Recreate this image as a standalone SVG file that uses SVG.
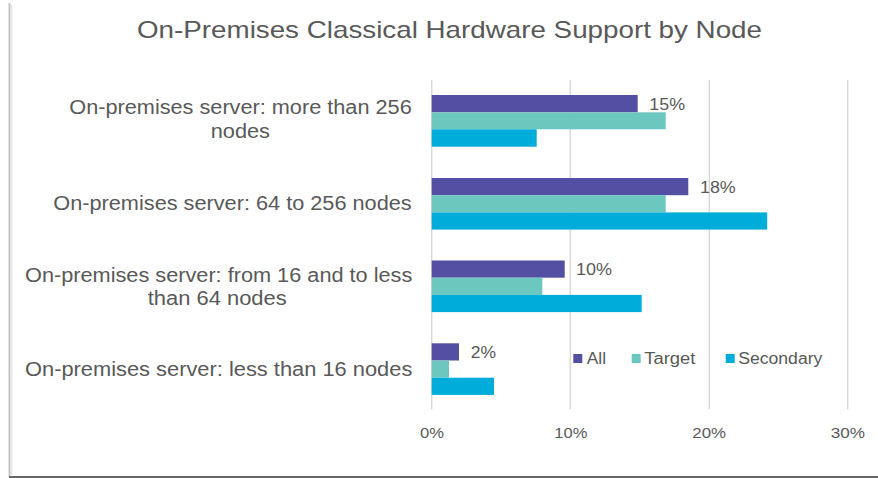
<svg xmlns="http://www.w3.org/2000/svg" width="878" height="478" viewBox="0 0 878 478">
<style>
text{font-family:"Liberation Sans",Arial,sans-serif;fill:#595959}
.t{font-size:24px}
.c{font-size:20px}
.v{font-size:16px}
.a{font-size:15px}
.l{font-size:16px}
.grid{stroke:#D9D9D9;stroke-width:1.5}
.all{fill:#534FA2}
.tgt{fill:#6CC8BF}
.sec{fill:#00ADDA}
</style>
<rect x="0" y="0" width="878" height="478" fill="#FFFFFF"/>
<g id="frame">
<line x1="9.5" y1="3" x2="9.5" y2="477" stroke="#C4C4C4" stroke-width="2"/>
<line x1="11.5" y1="5" x2="11.5" y2="475" stroke="#E6E6E6" stroke-width="1.5"/>
<line x1="9" y1="477" x2="878" y2="477" stroke="#666666" stroke-width="2"/>
</g>
<g id="title">
<text class="t" x="137" y="38.3" textLength="625" lengthAdjust="spacingAndGlyphs">On-Premises Classical Hardware Support by Node</text>
</g>
<g id="gridlines">
<line class="grid" x1="431.7" y1="80" x2="431.7" y2="409.3"/>
<line class="grid" x1="570.3" y1="80" x2="570.3" y2="409.3"/>
<line class="grid" x1="709.3" y1="80" x2="709.3" y2="409.3"/>
<line class="grid" x1="847.7" y1="80" x2="847.7" y2="409.3"/>
</g>
<g id="axis-labels">
<text class="a" x="420" y="438.3" textLength="24" lengthAdjust="spacingAndGlyphs">0%</text>
<text class="a" x="554.3" y="438.3" textLength="33" lengthAdjust="spacingAndGlyphs">10%</text>
<text class="a" x="692.3" y="438.3" textLength="33.7" lengthAdjust="spacingAndGlyphs">20%</text>
<text class="a" x="830.7" y="438.3" textLength="34.3" lengthAdjust="spacingAndGlyphs">30%</text>
</g>
<g id="cat-more-than-256">
<text class="c" x="69.3" y="113.8" textLength="342.4" lengthAdjust="spacingAndGlyphs">On-premises server: more than 256</text>
<text class="c" x="210.7" y="137.8" textLength="59.3" lengthAdjust="spacingAndGlyphs">nodes</text>
<rect class="all" x="431.7" y="95" width="206" height="17.3"/>
<rect class="tgt" x="431.7" y="112.3" width="234" height="17"/>
<rect class="sec" x="431.7" y="129.3" width="105" height="17.4"/>
<text class="v" x="649.3" y="110" textLength="35.7" lengthAdjust="spacingAndGlyphs">15%</text>
</g>
<g id="cat-64-to-256">
<text class="c" x="53.3" y="209.5" textLength="358.4" lengthAdjust="spacingAndGlyphs">On-premises server: 64 to 256 nodes</text>
<rect class="all" x="431.7" y="178" width="256.6" height="17.2"/>
<rect class="tgt" x="431.7" y="195.2" width="234" height="17.2"/>
<rect class="sec" x="431.7" y="212.4" width="335.5" height="17.2"/>
<text class="v" x="700" y="192.6" textLength="35.7" lengthAdjust="spacingAndGlyphs">18%</text>
</g>
<g id="cat-16-to-64">
<text class="c" x="25" y="281.8" textLength="387.3" lengthAdjust="spacingAndGlyphs">On-premises server: from 16 and to less</text>
<text class="c" x="147.7" y="305.3" textLength="139" lengthAdjust="spacingAndGlyphs">than 64 nodes</text>
<rect class="all" x="431.7" y="260.5" width="133" height="17.2"/>
<rect class="tgt" x="431.7" y="277.7" width="110.6" height="17.2"/>
<rect class="sec" x="431.7" y="294.9" width="210" height="17.2"/>
<text class="v" x="576" y="275.3" textLength="36" lengthAdjust="spacingAndGlyphs">10%</text>
</g>
<g id="cat-less-than-16">
<text class="c" x="25" y="375.6" textLength="387.3" lengthAdjust="spacingAndGlyphs">On-premises server: less than 16 nodes</text>
<rect class="all" x="431.7" y="343.3" width="27.3" height="17.2"/>
<rect class="tgt" x="431.7" y="360.5" width="17.3" height="17.2"/>
<rect class="sec" x="431.7" y="377.7" width="62.3" height="17.2"/>
<text class="v" x="470.7" y="358.3" textLength="25.3" lengthAdjust="spacingAndGlyphs">2%</text>
</g>
<g id="legend">
<rect class="all" x="573.3" y="354" width="9" height="9"/>
<text class="l" x="586.7" y="364" textLength="19.3" lengthAdjust="spacingAndGlyphs">All</text>
<rect class="tgt" x="631.7" y="354" width="9" height="9"/>
<text class="l" x="644.3" y="364" textLength="51" lengthAdjust="spacingAndGlyphs">Target</text>
<rect class="sec" x="725.7" y="354" width="9" height="9"/>
<text class="l" x="738.3" y="364" textLength="84" lengthAdjust="spacingAndGlyphs">Secondary</text>
</g>
</svg>
